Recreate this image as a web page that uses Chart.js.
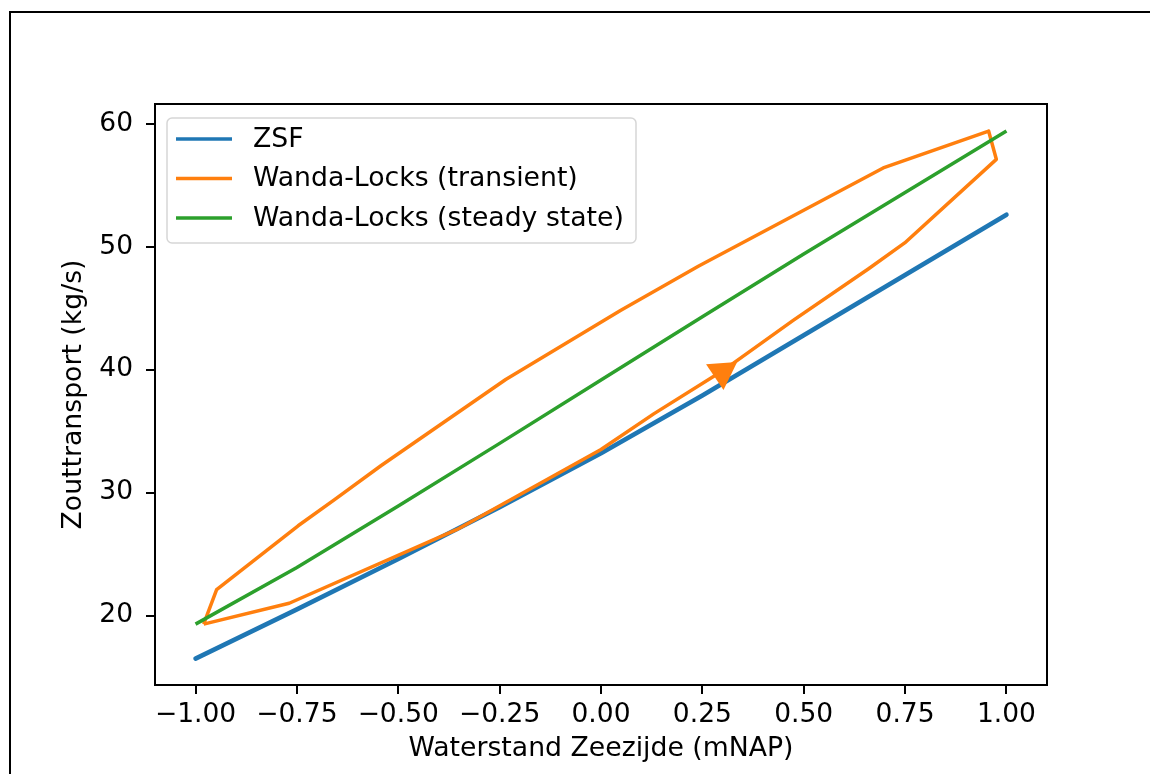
<!DOCTYPE html>
<html>
<head>
<meta charset="utf-8">
<script src="https://cdn.jsdelivr.net/npm/chart.js@4/dist/chart.umd.min.js"></script>
<style>
  html, body { margin: 0; padding: 0; background: #fff; overflow: hidden; }
  #frame { position: absolute; left: 9px; top: 11px; width: 1300px; height: 900px;
           border-left: 2px solid #000; border-top: 2px solid #000; }
  #c { position: absolute; left: 0; top: 0; }
</style>
</head>
<body>
<div id="frame"></div>
<canvas id="c" width="1150" height="774"></canvas>
<script>
// ---- data ----
const xTicks = [-1.0, -0.75, -0.5, -0.25, 0.0, 0.25, 0.5, 0.75, 1.0];
const yTicks = [20, 30, 40, 50, 60];

const zsfX = [-1.0, -0.75, -0.5, -0.25, 0.0, 0.25, 0.5, 0.75, 1.0];
const zsfY = [16.5, 20.5, 24.6, 28.8, 33.2, 37.9, 42.8, 47.7, 52.6];

const steadyX = [-1.0, -0.75, -0.5, -0.25, 0.0, 0.25, 0.5, 0.75, 1.0];
const steadyY = [19.3, 23.9, 28.9, 34.0, 39.15, 44.3, 49.4, 54.4, 59.4];

const transientX = [-0.98, -0.769, -0.355, 0.0, 0.13, 0.3, 0.474, 0.66, 0.749, 0.975,
                    0.956, 0.696, 0.24, 0.048, -0.235, -0.542, -0.658, -0.747, -0.948, -0.98];
const transientY = [19.3, 21.0, 27.0, 33.5, 36.4, 39.9, 44.0, 48.2, 50.3, 57.1,
                    59.4, 56.4, 48.4, 44.8, 39.2, 32.2, 29.4, 27.3, 22.1, 19.3];

const arrowX = [0.299];
const arrowY = [39.8];

const labels = ['ZSF', 'Wanda-Locks (transient)', 'Wanda-Locks (steady state)'];
const colors = ['#1f77b4', '#ff7f0e', '#2ca02c'];

const xTitle = 'Waterstand Zeezijde (mNAP)';
const yTitle = 'Zouttransport (kg/s)';

// ---- helpers ----
const pts = (xs, ys) => xs.map((x, i) => ({ x: x, y: ys[i] }));
const fmtX = v => (v < 0 ? '\u2212' : '') + Math.abs(v).toFixed(2);
const FONT = "'DejaVu Sans', sans-serif";

const frameAndLegend = {
  id: 'frameAndLegend',
  afterDatasetsDraw(chart) {
    const ctx = chart.ctx, a = chart.chartArea;
    ctx.save();
    // plot spines
    ctx.strokeStyle = '#000';
    ctx.lineWidth = 2;
    ctx.strokeRect(a.left, a.top, a.right - a.left, a.bottom - a.top);
    // legend box
    const lx = a.left + 12, ly = a.top + 14, lw = 469, lh = 125, r = 5;
    ctx.beginPath();
    ctx.moveTo(lx + r, ly);
    ctx.arcTo(lx + lw, ly, lx + lw, ly + lh, r);
    ctx.arcTo(lx + lw, ly + lh, lx, ly + lh, r);
    ctx.arcTo(lx, ly + lh, lx, ly, r);
    ctx.arcTo(lx, ly, lx + lw, ly, r);
    ctx.closePath();
    ctx.fillStyle = 'rgba(255,255,255,0.8)';
    ctx.fill();
    ctx.strokeStyle = '#d6d6d6';
    ctx.lineWidth = 1.5;
    ctx.stroke();
    ctx.font = '26.7px ' + FONT;
    ctx.textBaseline = 'middle';
    ctx.textAlign = 'left';
    for (let i = 0; i < labels.length; i++) {
      const yy = ly + 21 + i * 39.5;
      ctx.beginPath();
      ctx.moveTo(lx + 9, yy);
      ctx.lineTo(lx + 65, yy);
      ctx.strokeStyle = colors[i];
      ctx.lineWidth = 3.5;
      ctx.stroke();
      ctx.fillStyle = '#000';
      ctx.fillText(labels[i], lx + 86, yy + 1);
    }
    ctx.restore();
  }
};

new Chart(document.getElementById('c'), {
  type: 'scatter',
  data: {
    datasets: [
      { label: labels[0], data: pts(zsfX, zsfY), showLine: true, borderColor: colors[0],
        borderWidth: 4.6, pointRadius: 0, order: 3, borderCapStyle: 'round', borderJoinStyle: 'round' },
      { label: labels[1], data: pts(transientX, transientY), showLine: true, borderColor: colors[1],
        borderWidth: 3.5, pointRadius: 0, order: 2, borderJoinStyle: 'round' },
      { label: labels[2], data: pts(steadyX, steadyY), showLine: true, borderColor: colors[2],
        borderWidth: 3.5, pointRadius: 0, order: 1 },
      { label: 'arrow', data: pts(arrowX, arrowY), showLine: false, pointStyle: 'triangle',
        pointRadius: 18, rotation: 56, backgroundColor: colors[1], borderWidth: 0, order: 0 }
    ]
  },
  options: {
    responsive: false,
    animation: false,
    devicePixelRatio: 1,
    layout: { padding: { left: 0, top: 104, right: 103, bottom: 0 } },
    plugins: { legend: { display: false }, tooltip: { enabled: false } },
    scales: {
      x: {
        type: 'linear', min: -1.1, max: 1.1,
        afterBuildTicks: s => { s.ticks = xTicks.map(v => ({ value: v })); },
        afterFit: s => { s.height = 89; },
        grid: { drawOnChartArea: false, drawTicks: true, tickLength: 9, color: '#000', lineWidth: 2 },
        border: { display: true, color: '#000', width: 2 },
        ticks: { color: '#000', font: { family: FONT, size: 26.5 }, padding: 5, maxRotation: 0,
                 autoSkip: false, callback: v => fmtX(v) },
        title: { display: true, text: xTitle, color: '#000', font: { family: FONT, size: 26.7 },
                 padding: { top: 0, bottom: 9 } }
      },
      y: {
        type: 'linear', min: 14.35, max: 61.6,
        afterBuildTicks: s => { s.ticks = yTicks.map(v => ({ value: v })); },
        afterFit: s => { s.width = 155; },
        grid: { drawOnChartArea: false, drawTicks: true, tickLength: 9, color: '#000', lineWidth: 2 },
        border: { display: true, color: '#000', width: 2 },
        ticks: { color: '#000', font: { family: FONT, size: 26.5 }, padding: 13,
                 autoSkip: false, callback: v => String(v) },
        title: { display: true, text: yTitle, color: '#000', font: { family: FONT, size: 26.7 },
                 padding: { top: 58, bottom: 0 } }
      }
    }
  },
  plugins: [frameAndLegend]
});
</script>
</body>
</html>
